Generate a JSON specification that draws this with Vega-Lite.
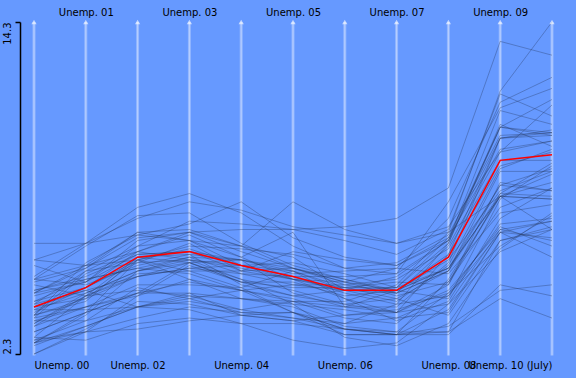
{
  "$schema": "https://vega.github.io/schema/vega-lite/v6.json",
  "width": 518,
  "height": 332,
  "autosize": {"type": "none"},
  "padding": {"left": 34, "top": 22, "right": 24, "bottom": 24},
  "background": "#6699ff",
  "config": {
    "view": {"stroke": null},
    "axis": {"labelFont": "DejaVu Sans", "labelFontSize": 10, "labelColor": "#000000"}
  },
  "datasets": {
    "axes": [
      {"key": "u00", "idx": 0, "name": "Unemp. 00"},
      {"key": "u01", "idx": 1, "name": "Unemp. 01"},
      {"key": "u02", "idx": 2, "name": "Unemp. 02"},
      {"key": "u03", "idx": 3, "name": "Unemp. 03"},
      {"key": "u04", "idx": 4, "name": "Unemp. 04"},
      {"key": "u05", "idx": 5, "name": "Unemp. 05"},
      {"key": "u06", "idx": 6, "name": "Unemp. 06"},
      {"key": "u07", "idx": 7, "name": "Unemp. 07"},
      {"key": "u08", "idx": 8, "name": "Unemp. 08"},
      {"key": "u09", "idx": 9, "name": "Unemp. 09"},
      {"key": "u10", "idx": 10, "name": "Unemp. 10 (July)"}
    ],
    "states": [
      {"s": "AL", "u00": 4.6, "u01": 5.1, "u02": 5.9, "u03": 6.0, "u04": 5.7, "u05": 4.5, "u06": 4.0, "u07": 4.0, "u08": 5.6, "u09": 10.1, "u10": 10.4},
      {"s": "AK", "u00": 6.3, "u01": 6.3, "u02": 7.2, "u03": 7.8, "u04": 7.5, "u05": 6.9, "u06": 6.6, "u07": 6.3, "u08": 6.7, "u09": 8.0, "u10": 7.9},
      {"s": "AZ", "u00": 4.0, "u01": 4.7, "u02": 6.0, "u03": 5.7, "u04": 5.0, "u05": 4.6, "u06": 4.1, "u07": 3.8, "u08": 5.9, "u09": 9.1, "u10": 9.6},
      {"s": "AR", "u00": 4.2, "u01": 5.0, "u02": 5.4, "u03": 5.8, "u04": 5.7, "u05": 5.2, "u06": 5.3, "u07": 5.4, "u08": 5.2, "u09": 7.4, "u10": 7.7},
      {"s": "CA", "u00": 4.9, "u01": 5.4, "u02": 6.7, "u03": 6.8, "u04": 6.2, "u05": 5.4, "u06": 4.9, "u07": 5.4, "u08": 7.2, "u09": 11.4, "u10": 12.3},
      {"s": "CO", "u00": 2.7, "u01": 3.8, "u02": 5.7, "u03": 6.1, "u04": 5.5, "u05": 5.0, "u06": 4.3, "u07": 3.8, "u08": 4.8, "u09": 8.1, "u10": 8.0},
      {"s": "CT", "u00": 2.3, "u01": 3.1, "u02": 4.4, "u03": 5.5, "u04": 4.9, "u05": 4.9, "u06": 4.4, "u07": 4.6, "u08": 5.7, "u09": 8.2, "u10": 8.9},
      {"s": "DE", "u00": 3.5, "u01": 3.5, "u02": 4.0, "u03": 4.2, "u04": 3.9, "u05": 4.2, "u06": 3.6, "u07": 3.4, "u08": 4.9, "u09": 8.0, "u10": 8.5},
      {"s": "DC", "u00": 5.7, "u01": 6.3, "u02": 6.6, "u03": 7.0, "u04": 7.8, "u05": 6.5, "u06": 5.8, "u07": 5.5, "u08": 6.5, "u09": 9.7, "u10": 10.0},
      {"s": "FL", "u00": 3.8, "u01": 4.7, "u02": 5.7, "u03": 5.3, "u04": 4.7, "u05": 3.8, "u06": 3.4, "u07": 4.1, "u08": 6.3, "u09": 10.5, "u10": 11.5},
      {"s": "GA", "u00": 3.5, "u01": 4.0, "u02": 4.8, "u03": 4.8, "u04": 4.7, "u05": 5.3, "u06": 4.6, "u07": 4.5, "u08": 6.2, "u09": 9.6, "u10": 10.0},
      {"s": "HI", "u00": 4.0, "u01": 4.6, "u02": 4.0, "u03": 3.9, "u04": 3.4, "u05": 2.8, "u06": 2.5, "u07": 2.7, "u08": 4.1, "u09": 6.8, "u10": 6.4},
      {"s": "ID", "u00": 4.6, "u01": 5.0, "u02": 5.4, "u03": 5.2, "u04": 4.6, "u05": 3.8, "u06": 3.2, "u07": 3.0, "u08": 5.0, "u09": 8.0, "u10": 8.8},
      {"s": "IL", "u00": 4.5, "u01": 5.4, "u02": 6.5, "u03": 6.7, "u04": 6.2, "u05": 5.8, "u06": 4.6, "u07": 5.1, "u08": 6.4, "u09": 10.1, "u10": 10.3},
      {"s": "IN", "u00": 2.9, "u01": 4.4, "u02": 5.2, "u03": 5.3, "u04": 5.3, "u05": 5.4, "u06": 5.0, "u07": 4.6, "u08": 5.9, "u09": 10.1, "u10": 10.2},
      {"s": "IA", "u00": 2.6, "u01": 3.3, "u02": 4.0, "u03": 4.3, "u04": 4.6, "u05": 4.3, "u06": 3.7, "u07": 3.8, "u08": 4.1, "u09": 6.0, "u10": 6.8},
      {"s": "KS", "u00": 3.7, "u01": 4.3, "u02": 5.1, "u03": 5.4, "u04": 5.5, "u05": 5.1, "u06": 4.5, "u07": 4.1, "u08": 4.4, "u09": 6.7, "u10": 6.5},
      {"s": "KY", "u00": 4.1, "u01": 5.3, "u02": 5.6, "u03": 6.3, "u04": 5.3, "u05": 6.0, "u06": 5.7, "u07": 5.5, "u08": 6.4, "u09": 10.5, "u10": 10.3},
      {"s": "LA", "u00": 5.0, "u01": 5.5, "u02": 6.0, "u03": 6.6, "u04": 5.8, "u05": 6.7, "u06": 4.0, "u07": 3.8, "u08": 4.6, "u09": 6.8, "u10": 7.1},
      {"s": "ME", "u00": 3.3, "u01": 4.0, "u02": 4.4, "u03": 5.0, "u04": 4.6, "u05": 4.8, "u06": 4.6, "u07": 4.7, "u08": 5.4, "u09": 8.0, "u10": 7.9},
      {"s": "MD", "u00": 3.6, "u01": 4.0, "u02": 4.5, "u03": 4.5, "u04": 4.3, "u05": 4.1, "u06": 3.9, "u07": 3.6, "u08": 4.4, "u09": 7.0, "u10": 7.2},
      {"s": "MA", "u00": 2.7, "u01": 3.7, "u02": 5.3, "u03": 5.8, "u04": 5.2, "u05": 4.8, "u06": 4.8, "u07": 4.5, "u08": 5.3, "u09": 8.4, "u10": 9.0},
      {"s": "MI", "u00": 3.7, "u01": 5.3, "u02": 6.2, "u03": 7.1, "u04": 7.0, "u05": 6.8, "u06": 6.9, "u07": 7.2, "u08": 8.3, "u09": 13.6, "u10": 13.1},
      {"s": "MN", "u00": 3.1, "u01": 3.8, "u02": 4.5, "u03": 4.9, "u04": 4.6, "u05": 4.2, "u06": 4.0, "u07": 4.6, "u08": 5.4, "u09": 8.0, "u10": 6.8},
      {"s": "MS", "u00": 5.7, "u01": 5.5, "u02": 6.7, "u03": 6.4, "u04": 6.2, "u05": 7.8, "u06": 6.8, "u07": 6.3, "u08": 6.9, "u09": 9.6, "u10": 11.3},
      {"s": "MO", "u00": 3.3, "u01": 4.4, "u02": 5.1, "u03": 5.6, "u04": 5.7, "u05": 5.4, "u06": 4.8, "u07": 5.0, "u08": 6.1, "u09": 9.3, "u10": 9.3},
      {"s": "MT", "u00": 4.8, "u01": 4.4, "u02": 4.6, "u03": 4.4, "u04": 4.3, "u05": 4.0, "u06": 3.3, "u07": 3.1, "u08": 4.5, "u09": 6.2, "u10": 7.3},
      {"s": "NE", "u00": 2.8, "u01": 3.1, "u02": 3.6, "u03": 4.0, "u04": 3.8, "u05": 3.8, "u06": 3.0, "u07": 3.0, "u08": 3.3, "u09": 4.6, "u10": 4.8},
      {"s": "NV", "u00": 4.5, "u01": 5.5, "u02": 5.7, "u03": 5.0, "u04": 4.3, "u05": 4.2, "u06": 4.2, "u07": 4.8, "u08": 6.7, "u09": 11.8, "u10": 14.3},
      {"s": "NH", "u00": 2.8, "u01": 3.5, "u02": 4.7, "u03": 4.3, "u04": 3.8, "u05": 3.6, "u06": 3.4, "u07": 3.6, "u08": 3.8, "u09": 6.7, "u10": 5.8},
      {"s": "NJ", "u00": 3.7, "u01": 4.2, "u02": 5.8, "u03": 5.9, "u04": 4.8, "u05": 4.4, "u06": 4.6, "u07": 4.2, "u08": 5.5, "u09": 9.0, "u10": 9.7},
      {"s": "NM", "u00": 5.0, "u01": 4.8, "u02": 5.5, "u03": 5.9, "u04": 5.7, "u05": 5.3, "u06": 4.3, "u07": 3.5, "u08": 4.2, "u09": 7.2, "u10": 8.3},
      {"s": "NY", "u00": 4.5, "u01": 4.9, "u02": 6.2, "u03": 6.4, "u04": 5.8, "u05": 5.0, "u06": 4.6, "u07": 4.6, "u08": 5.4, "u09": 8.4, "u10": 8.2},
      {"s": "NC", "u00": 3.7, "u01": 5.6, "u02": 6.6, "u03": 6.4, "u04": 5.5, "u05": 5.3, "u06": 4.7, "u07": 4.7, "u08": 6.3, "u09": 10.6, "u10": 9.8},
      {"s": "ND", "u00": 2.9, "u01": 2.8, "u02": 3.4, "u03": 3.6, "u04": 3.4, "u05": 3.4, "u06": 3.2, "u07": 3.1, "u08": 3.1, "u09": 4.3, "u10": 3.6},
      {"s": "OH", "u00": 4.0, "u01": 4.3, "u02": 5.7, "u03": 6.2, "u04": 6.1, "u05": 5.9, "u06": 5.4, "u07": 5.6, "u08": 6.6, "u09": 10.2, "u10": 10.3},
      {"s": "OK", "u00": 3.1, "u01": 3.8, "u02": 4.5, "u03": 5.6, "u04": 4.9, "u05": 4.4, "u06": 4.1, "u07": 4.3, "u08": 3.7, "u09": 6.4, "u10": 6.8},
      {"s": "OR", "u00": 5.1, "u01": 6.3, "u02": 7.6, "u03": 8.1, "u04": 7.4, "u05": 6.2, "u06": 5.4, "u07": 5.2, "u08": 6.4, "u09": 11.1, "u10": 10.6},
      {"s": "PA", "u00": 4.2, "u01": 4.7, "u02": 5.6, "u03": 5.7, "u04": 5.4, "u05": 5.0, "u06": 4.7, "u07": 4.3, "u08": 5.3, "u09": 8.1, "u10": 9.2},
      {"s": "RI", "u00": 4.1, "u01": 4.6, "u02": 5.1, "u03": 5.4, "u04": 5.2, "u05": 5.1, "u06": 5.1, "u07": 5.2, "u08": 7.8, "u09": 11.2, "u10": 11.9},
      {"s": "SC", "u00": 3.6, "u01": 5.2, "u02": 6.0, "u03": 6.7, "u04": 6.8, "u05": 6.8, "u06": 6.4, "u07": 5.9, "u08": 6.8, "u09": 11.7, "u10": 10.9},
      {"s": "SD", "u00": 2.7, "u01": 3.1, "u02": 3.2, "u03": 3.5, "u04": 3.7, "u05": 3.8, "u06": 3.2, "u07": 3.0, "u08": 3.0, "u09": 4.8, "u10": 4.4},
      {"s": "TN", "u00": 3.9, "u01": 4.5, "u02": 5.3, "u03": 5.7, "u04": 5.5, "u05": 5.6, "u06": 5.2, "u07": 4.7, "u08": 6.5, "u09": 10.5, "u10": 10.2},
      {"s": "TX", "u00": 4.4, "u01": 4.9, "u02": 6.4, "u03": 6.7, "u04": 6.0, "u05": 5.4, "u06": 4.9, "u07": 4.4, "u08": 4.9, "u09": 7.6, "u10": 8.3},
      {"s": "UT", "u00": 3.4, "u01": 4.4, "u02": 5.8, "u03": 5.6, "u04": 5.0, "u05": 4.1, "u06": 2.9, "u07": 2.6, "u08": 3.4, "u09": 6.1, "u10": 7.4},
      {"s": "VT", "u00": 2.7, "u01": 3.3, "u02": 4.0, "u03": 4.5, "u04": 3.7, "u05": 3.5, "u06": 3.7, "u07": 3.9, "u08": 4.5, "u09": 6.9, "u10": 6.2},
      {"s": "VA", "u00": 2.3, "u01": 3.2, "u02": 4.2, "u03": 4.1, "u04": 3.7, "u05": 3.5, "u06": 3.0, "u07": 3.0, "u08": 3.9, "u09": 6.7, "u10": 7.1},
      {"s": "WA", "u00": 5.0, "u01": 6.2, "u02": 7.3, "u03": 7.4, "u04": 6.3, "u05": 5.5, "u06": 5.0, "u07": 4.5, "u08": 5.3, "u09": 8.9, "u10": 8.9},
      {"s": "WV", "u00": 5.5, "u01": 4.9, "u02": 5.9, "u03": 6.0, "u04": 5.3, "u05": 5.0, "u06": 4.9, "u07": 4.6, "u08": 4.3, "u09": 7.9, "u10": 9.1},
      {"s": "WI", "u00": 3.4, "u01": 4.5, "u02": 5.3, "u03": 5.6, "u04": 4.9, "u05": 4.7, "u06": 4.7, "u07": 4.9, "u08": 4.8, "u09": 8.5, "u10": 8.2},
      {"s": "WY", "u00": 3.9, "u01": 3.9, "u02": 4.0, "u03": 4.4, "u04": 3.9, "u05": 3.6, "u06": 3.2, "u07": 3.0, "u08": 3.1, "u09": 6.4, "u10": 6.9}
    ],
    "us": [
      {"s": "US", "u00": 4.0, "u01": 4.7, "u02": 5.8, "u03": 6.0, "u04": 5.5, "u05": 5.1, "u06": 4.6, "u07": 4.6, "u08": 5.8, "u09": 9.3, "u10": 9.5}
    ]
  },
  "resolve": {"axis": {"x": "independent"}},
  "layer": [
    {
      "data": {"name": "axes"},
      "mark": {"type": "rule", "color": "#ffffff", "strokeWidth": 3, "opacity": 0.3},
      "encoding": {
        "x": {"field": "idx", "type": "quantitative", "scale": {"domain": [0, 10], "nice": false, "zero": false}, "axis": null, "title": null},
        "y": {"datum": 2.25, "type": "quantitative", "title": null},
        "y2": {"datum": 14.3}
      }
    },
    {
      "data": {"name": "axes"},
      "mark": {"type": "rule", "color": "#ffffff", "strokeWidth": 1, "opacity": 0.35},
      "encoding": {
        "x": {"field": "idx", "type": "quantitative", "axis": null, "title": null},
        "y": {"datum": 2.25, "type": "quantitative", "title": null},
        "y2": {"datum": 14.3}
      }
    },
    {
      "data": {"name": "states"},
      "transform": [
        {"fold": ["u00", "u01", "u02", "u03", "u04", "u05", "u06", "u07", "u08", "u09", "u10"], "as": ["key", "v"]},
        {"lookup": "key", "from": {"data": {"name": "axes"}, "key": "key", "fields": ["idx"]}}
      ],
      "mark": {"type": "line", "color": "#22345a", "strokeWidth": 1, "opacity": 0.34},
      "encoding": {
        "detail": {"field": "s"},
        "order": {"field": "idx", "type": "quantitative"},
        "x": {
          "field": "idx", "type": "quantitative", "title": null,
          "axis": {
            "orient": "bottom", "values": [0, 2, 4, 6, 8, 10], "domain": false, "ticks": false, "grid": false,
            "labelPadding": 6, "labelFlush": true, "labelOverlap": false,
            "labelExpr": "['Unemp. 00','Unemp. 01','Unemp. 02','Unemp. 03','Unemp. 04','Unemp. 05','Unemp. 06','Unemp. 07','Unemp. 08','Unemp. 09','Unemp. 10 (July)'][datum.value]"
          }
        },
        "y": {
          "field": "v", "type": "quantitative", "title": null,
          "scale": {"domain": [2.3, 14.3], "nice": false, "zero": false},
          "axis": {
            "orient": "left", "offset": 14, "values": [2.3, 14.3], "format": ".1f", "grid": false,
            "domainColor": "#000000", "domainWidth": 1.5, "tickColor": "#000000", "tickWidth": 1.5, "tickSize": 5,
            "labelAngle": -90, "labelPadding": 3, "labelBaseline": "bottom",
            "labelAlign": {"expr": "datum.value < 5 ? 'left' : 'right'"}
          }
        }
      }
    },
    {
      "data": {"name": "us"},
      "transform": [
        {"fold": ["u00", "u01", "u02", "u03", "u04", "u05", "u06", "u07", "u08", "u09", "u10"], "as": ["key", "v"]},
        {"lookup": "key", "from": {"data": {"name": "axes"}, "key": "key", "fields": ["idx"]}}
      ],
      "mark": {"type": "line", "color": "#ff0000", "strokeWidth": 1.5},
      "encoding": {
        "order": {"field": "idx", "type": "quantitative"},
        "x": {
          "field": "idx", "type": "quantitative", "title": null,
          "axis": {
            "orient": "top", "values": [1, 3, 5, 7, 9], "domain": false, "ticks": false, "grid": false,
            "labelPadding": 5, "labelFlush": false, "labelOverlap": false,
            "labelExpr": "['Unemp. 00','Unemp. 01','Unemp. 02','Unemp. 03','Unemp. 04','Unemp. 05','Unemp. 06','Unemp. 07','Unemp. 08','Unemp. 09','Unemp. 10 (July)'][datum.value]"
          }
        },
        "y": {"field": "v", "type": "quantitative", "title": null}
      }
    },
    {
      "data": {"name": "axes"},
      "mark": {"type": "point", "shape": "triangle-up", "filled": true, "color": "#ffffff", "opacity": 0.6, "size": 28},
      "encoding": {
        "x": {"field": "idx", "type": "quantitative", "axis": null, "title": null},
        "y": {"datum": 14.3, "type": "quantitative", "title": null}
      }
    }
  ]
}
